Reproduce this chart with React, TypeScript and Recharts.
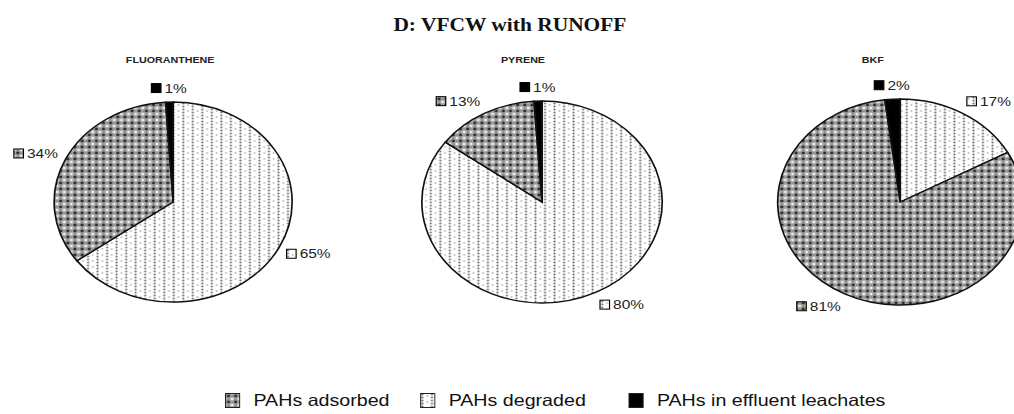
import React from 'react';
import { PieChart, Pie, Cell } from 'recharts';

// ---- data ----
const categories = ['PAHs degraded', 'PAHs adsorbed', 'PAHs in effluent leachates'];
const fluorantheneValues = [65, 34, 1];
const pyreneValues = [80, 13, 1];
const bkfValues = [17, 81, 2];
const compoundTitles = ['FLUORANTHENE', 'PYRENE', 'BKF'];
const legendOrder = ['PAHs adsorbed', 'PAHs degraded', 'PAHs in effluent leachates'];
const mainTitle = 'D: VFCW with RUNOFF';

const patternOf: Record<string, string> = {
  'PAHs degraded': 'url(#patDeg)',
  'PAHs adsorbed': 'url(#patAds)',
  'PAHs in effluent leachates': '#000',
};

const build = (vals: number[]) => categories.map((name, i) => ({ name, value: vals[i] }));
const pies = [
  { title: compoundTitles[0], data: build(fluorantheneValues), cx: 145.5, r: 100, titleX: 143 },
  { title: compoundTitles[1], data: build(pyreneValues), cx: 455.5, r: 101, titleX: 439.5 },
  { title: compoundTitles[2], data: build(bkfValues), cx: 756.5, r: 103, titleX: 733.5 },
];

const SX = 1.19;
const W = 852;
const H = 414;
const CY = 202;
const LABEL_FONT = 13;

const textW = (s: string) => {
  let w = 0;
  for (const c of s) w += c === '%' ? 0.889 : 0.556;
  return w * LABEL_FONT;
};

const renderLabel = (props: any) => {
  const { cx, cy, midAngle, outerRadius, value, name } = props;
  const rad = (-midAngle * Math.PI) / 180;
  const c = Math.cos(rad);
  const s = Math.sin(rad);
  const x = cx + (outerRadius + 7) * c;
  const y = cy + (outerRadius + 14) * s;
  const txt = `${value}%`;
  const bw = 8;
  const gap = 3;
  const total = bw + gap + textW(txt);
  const left = c > 0.2 ? x : c < -0.2 ? x - total : x - total / 2;
  return (
    <g>
      <rect x={left} y={y - 4.5} width={bw} height={9} fill={patternOf[name]} stroke="#000" strokeWidth={1} />
      <text
        x={left + bw + gap}
        y={y}
        dominantBaseline="central"
        fontFamily="'Liberation Sans', Arial, sans-serif"
        fontSize={LABEL_FONT}
        fill="#222"
      >
        {txt}
      </text>
    </g>
  );
};

const Patterns = () => (
  <svg width={0} height={0} style={{ position: 'absolute' }}>
    <defs>
      <pattern id="patAds" width={6} height={6} patternUnits="userSpaceOnUse">
        <rect width={6} height={6} fill="#a6a6a6" />
        <circle cx={3} cy={3} r={1.4} fill="#2e2e2e" />
        <circle cx={0} cy={0} r={1.2} fill="#f0f0f0" />
        <circle cx={6} cy={0} r={1.2} fill="#f0f0f0" />
        <circle cx={0} cy={6} r={1.2} fill="#f0f0f0" />
        <circle cx={6} cy={6} r={1.2} fill="#f0f0f0" />
        <circle cx={0} cy={3} r={0.6} fill="#666" />
        <circle cx={6} cy={3} r={0.6} fill="#666" />
        <circle cx={3} cy={0} r={0.6} fill="#666" />
        <circle cx={3} cy={6} r={0.6} fill="#666" />
      </pattern>
      <pattern id="patDeg" width={8} height={6} patternUnits="userSpaceOnUse">
        <rect width={8} height={6} fill="#ffffff" />
        <circle cx={2} cy={1.5} r={0.9} fill="#6e6e6e" />
        <circle cx={2} cy={4.5} r={0.9} fill="#6e6e6e" />
        <circle cx={6} cy={3} r={0.8} fill="#a0a0a0" />
      </pattern>
    </defs>
  </svg>
);

const legendBoxX = [189, 353, 528];

export default function App() {
  return (
    <div style={{ position: 'absolute', left: 0, top: 0, width: 1014, height: 414, overflow: 'hidden', background: '#fff' }}>
      <Patterns />
      <div
        style={{
          position: 'absolute',
          left: 0,
          top: 0,
          width: W,
          height: H,
          transform: `scaleX(${SX})`,
          transformOrigin: '0 0',
        }}
      >
        <PieChart width={W} height={H} margin={{ top: 0, right: 0, bottom: 0, left: 0 }}>
          {pies.map((p, k) => (
            <Pie
              key={k}
              data={p.data}
              dataKey="value"
              nameKey="name"
              cx={p.cx}
              cy={CY}
              outerRadius={p.r}
              startAngle={90}
              endAngle={-270}
              stroke="#111"
              strokeWidth={1.4}
              label={renderLabel}
              labelLine={false}
              isAnimationActive={false}
            >
              {p.data.map((d, i) => (
                <Cell key={i} fill={patternOf[d.name]} />
              ))}
            </Pie>
          ))}
        </PieChart>
        <div
          style={{
            position: 'absolute',
            left: 0,
            width: 857,
            top: 14,
            textAlign: 'center',
            fontFamily: "'Liberation Serif', 'Times New Roman', serif",
            fontWeight: 'bold',
            fontSize: 18,
            lineHeight: '22px',
            color: '#111',
          }}
        >
          {mainTitle}
        </div>
        {pies.map((p, k) => (
          <div
            key={k}
            style={{
              position: 'absolute',
              left: p.titleX - 100,
              width: 200,
              top: 54,
              textAlign: 'center',
              fontFamily: "'Liberation Sans', Arial, sans-serif",
              fontWeight: 'bold',
              fontSize: 9,
              lineHeight: '12px',
              color: '#222',
            }}
          >
            {p.title}
          </div>
        ))}
        {legendOrder.map((name, i) => (
          <div
            key={name}
            style={{
              position: 'absolute',
              left: legendBoxX[i],
              top: 390,
              height: 20,
              display: 'flex',
              alignItems: 'center',
              whiteSpace: 'nowrap',
              fontFamily: "'Liberation Sans', Arial, sans-serif",
              fontSize: 16.5,
              color: '#111',
            }}
          >
            <svg width={13} height={15} style={{ marginRight: 11 }}>
              <rect x={0.5} y={0.5} width={12} height={14} fill={patternOf[name]} stroke="#222" strokeWidth={1} />
            </svg>
            <span>{name}</span>
          </div>
        ))}
      </div>
    </div>
  );
}
